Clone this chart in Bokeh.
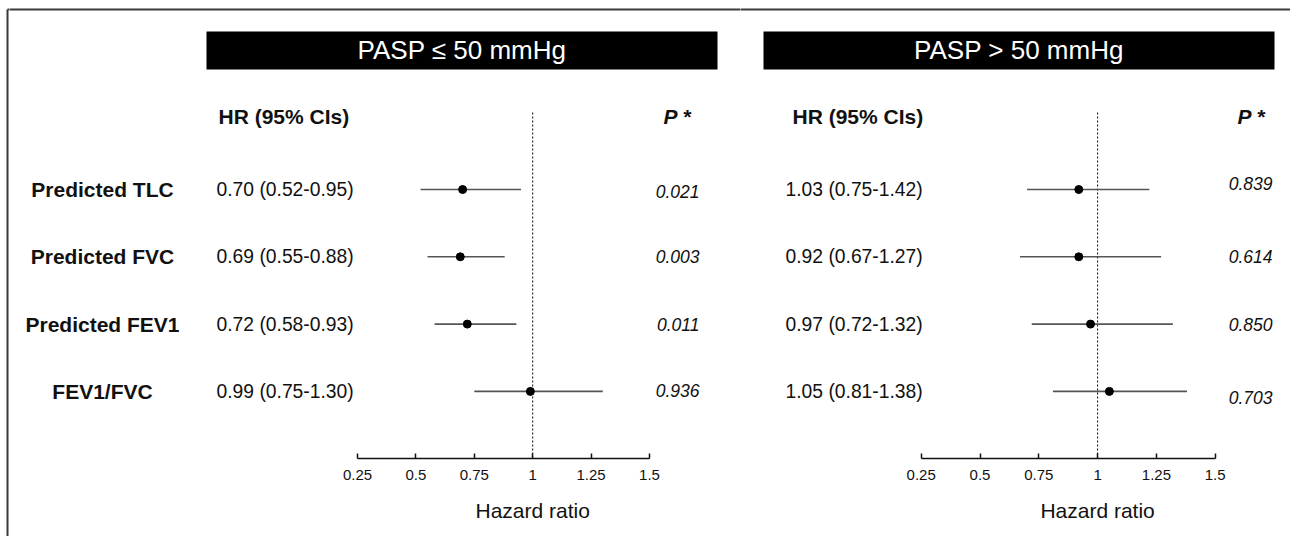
from bokeh.plotting import figure
from bokeh.layouts import row
from bokeh.models import (ColumnDataSource, Range1d, LinearAxis, FixedTicker,
                          CustomJSTickFormatter, BoxAnnotation, Label)
from bokeh.core.properties import value
from bokeh.embed import file_html
from bokeh.resources import INLINE

# ---------------- data ----------------
categories = ["Predicted TLC", "Predicted FVC", "Predicted FEV1", "FEV1/FVC"]

# PASP <= 50 mmHg
low_hr = [0.70, 0.69, 0.72, 0.99]
low_lo = [0.52, 0.55, 0.58, 0.75]
low_hi = [0.95, 0.88, 0.93, 1.30]
low_labels = ["0.70 (0.52-0.95)", "0.69 (0.55-0.88)", "0.72 (0.58-0.93)", "0.99 (0.75-1.30)"]
low_p = ["0.021", "0.003", "0.011", "0.936"]

# PASP > 50 mmHg (markers as drawn in the figure)
high_hr = [0.92, 0.92, 0.97, 1.05]
high_lo = [0.70, 0.67, 0.72, 0.81]
high_hi = [1.22, 1.27, 1.32, 1.38]
high_labels = ["1.03 (0.75-1.42)", "0.92 (0.67-1.27)", "0.97 (0.72-1.32)", "1.05 (0.81-1.38)"]
high_p = ["0.839", "0.614", "0.850", "0.703"]

panel_titles = ["PASP \u2264 50 mmHg", "PASP > 50 mmHg"]
tick_values = [0.25, 0.5, 0.75, 1, 1.25, 1.5]
ref_value = [1]
x_label = "Hazard ratio"
hr_header = "HR (95% CIs)"
p_header = "P *"

# ---------------- layout ----------------
FONT = "Liberation Sans"
H = 536
AXIS_PX = 458
ROW0_PX = 189.0
ROW_STEP = 67.3
BORDER = "#3a3a3a"
TXT = "#111111"


def y_of(px):
    return (px - ROW0_PX) / ROW_STEP


panels = [
    dict(left=9, width=731, origin=357.0, scale=233.6, bar=(206, 717),
         hdr_x=218, hr_x=216, p_right=699, pstar_x=663, p_dy=[1.5, 0, 0, -1],
         hr=low_hr, lo=low_lo, hi=low_hi, labels=low_labels, p=low_p,
         title=panel_titles[0], rowlabels=True),
    dict(left=740, width=550, origin=920.7, scale=235.2, bar=(763, 1274),
         hdr_x=792, hr_x=785, p_right=1272, pstar_x=1237, p_dy=[-6, 0, 0, 6],
         hr=high_hr, lo=high_lo, hi=high_hi, labels=high_labels, p=high_p,
         title=panel_titles[1], rowlabels=False),
]

common = dict(height=H, output_backend="svg", toolbar_location=None,
              x_axis_location=None, y_axis_location=None,
              min_border_left=0, min_border_right=0, min_border_top=0,
              min_border_bottom=0, outline_line_color=None,
              background_fill_color="white", border_fill_color="white",
              y_range=Range1d(y_of(H), y_of(0)))

figs = []

# thin strip carrying the left edge of the frame border
sp = figure(width=9, x_range=Range1d(0, 9), **common)
sp.xgrid.visible = False
sp.ygrid.visible = False
sp.segment(x0=[7, 7], y0=[y_of(9), y_of(9)], x1=[9, 7], y1=[y_of(9), y_of(H)],
           line_color=BORDER, line_width=2)
figs.append(sp)

for pn in panels:
    def x_of(px, pn=pn):
        return 0.25 + (px - pn["origin"]) / pn["scale"]

    xs, xe = x_of(pn["left"] - 1), x_of(pn["left"] + pn["width"] + 1)
    p = figure(width=pn["width"],
               x_range=Range1d(x_of(pn["left"]), x_of(pn["left"] + pn["width"])),
               **common)
    p.xgrid.visible = False
    p.ygrid.visible = False

    # top border line
    p.segment(x0=[xs], x1=[xe], y0=[y_of(9)], y1=[y_of(9)], line_color=BORDER, line_width=2)

    # title bar
    b0, b1 = pn["bar"]
    p.add_layout(BoxAnnotation(left=x_of(b0), right=x_of(b1), top=y_of(31), bottom=y_of(69),
                               fill_color="black", fill_alpha=1, line_color=None, level="underlay"))
    p.add_layout(Label(x=x_of((b0 + b1) / 2), y=y_of(49), text=pn["title"],
                       text_align="center", text_baseline="middle", text_color="white",
                       text_font=FONT, text_font_size="26px"))

    # headers
    p.add_layout(Label(x=x_of(pn["hdr_x"]), y=y_of(116), text=hr_header, text_align="left",
                       text_baseline="middle", text_color=TXT, text_font=FONT,
                       text_font_size="21px", text_font_style="bold"))
    p.add_layout(Label(x=x_of(pn["pstar_x"]), y=y_of(116), text=p_header, text_align="left",
                       text_baseline="middle", text_color=TXT, text_font=FONT,
                       text_font_size="21px", text_font_style="bold italic"))

    idx = list(range(len(categories)))
    src = ColumnDataSource(dict(
        cat=categories, y=idx, hr=pn["hr"], lo=pn["lo"], hi=pn["hi"],
        lab=pn["labels"], pv=pn["p"],
        lab_x=[x_of(pn["hr_x"])] * len(idx),
        cat_x=[x_of(102)] * len(idx),
        p_x=[x_of(pn["p_right"])] * len(idx),
        p_y=[i + d / ROW_STEP for i, d in zip(idx, pn["p_dy"])],
    ))

    # reference line at HR = 1
    p.segment(x0=ref_value, x1=ref_value, y0=[y_of(112)], y1=[y_of(AXIS_PX)],
              line_color="#000000", line_width=1, line_dash="2 2")

    # confidence intervals and point estimates
    p.segment(x0="lo", x1="hi", y0="y", y1="y", source=src, line_color="#555555", line_width=1.6)
    p.scatter(x="hr", y="y", source=src, size=8, color="black")

    # texts
    if pn["rowlabels"]:
        p.text(x="cat_x", y="y", text="cat", source=src, text_align="center",
               text_baseline="middle", text_font=value(FONT), text_font_size="21px",
               text_font_style="bold", text_color=TXT)
    p.text(x="lab_x", y="y", text="lab", source=src, text_align="left",
           text_baseline="middle", text_font=value(FONT), text_font_size="19.3px",
           text_color=TXT)
    p.text(x="p_x", y="p_y", text="pv", source=src, text_align="right",
           text_baseline="middle", text_font=value(FONT), text_font_size="17.5px",
           text_font_style="italic", text_color=TXT)

    # axis drawn at a fixed location inside the frame
    ax = LinearAxis(ticker=FixedTicker(ticks=tick_values),
                    bounds=(min(tick_values), max(tick_values)),
                    fixed_location=y_of(AXIS_PX),
                    formatter=CustomJSTickFormatter(code="return tick.toString();"),
                    major_tick_in=5, major_tick_out=0, minor_tick_in=0, minor_tick_out=0,
                    axis_line_color=TXT, axis_line_width=1.5,
                    major_tick_line_color=TXT, major_tick_line_width=1.5,
                    major_label_text_font=FONT, major_label_text_font_size="15px",
                    major_label_text_color=TXT, major_label_standoff=11)
    p.add_layout(ax, "below")

    p.add_layout(Label(x=ref_value[0], y=y_of(510), text=x_label, text_align="center",
                       text_baseline="middle", text_color=TXT, text_font=FONT,
                       text_font_size="21px"))
    figs.append(p)

layout = row(*figs, spacing=0)
open("out.html", "w").write(file_html(layout, INLINE))
